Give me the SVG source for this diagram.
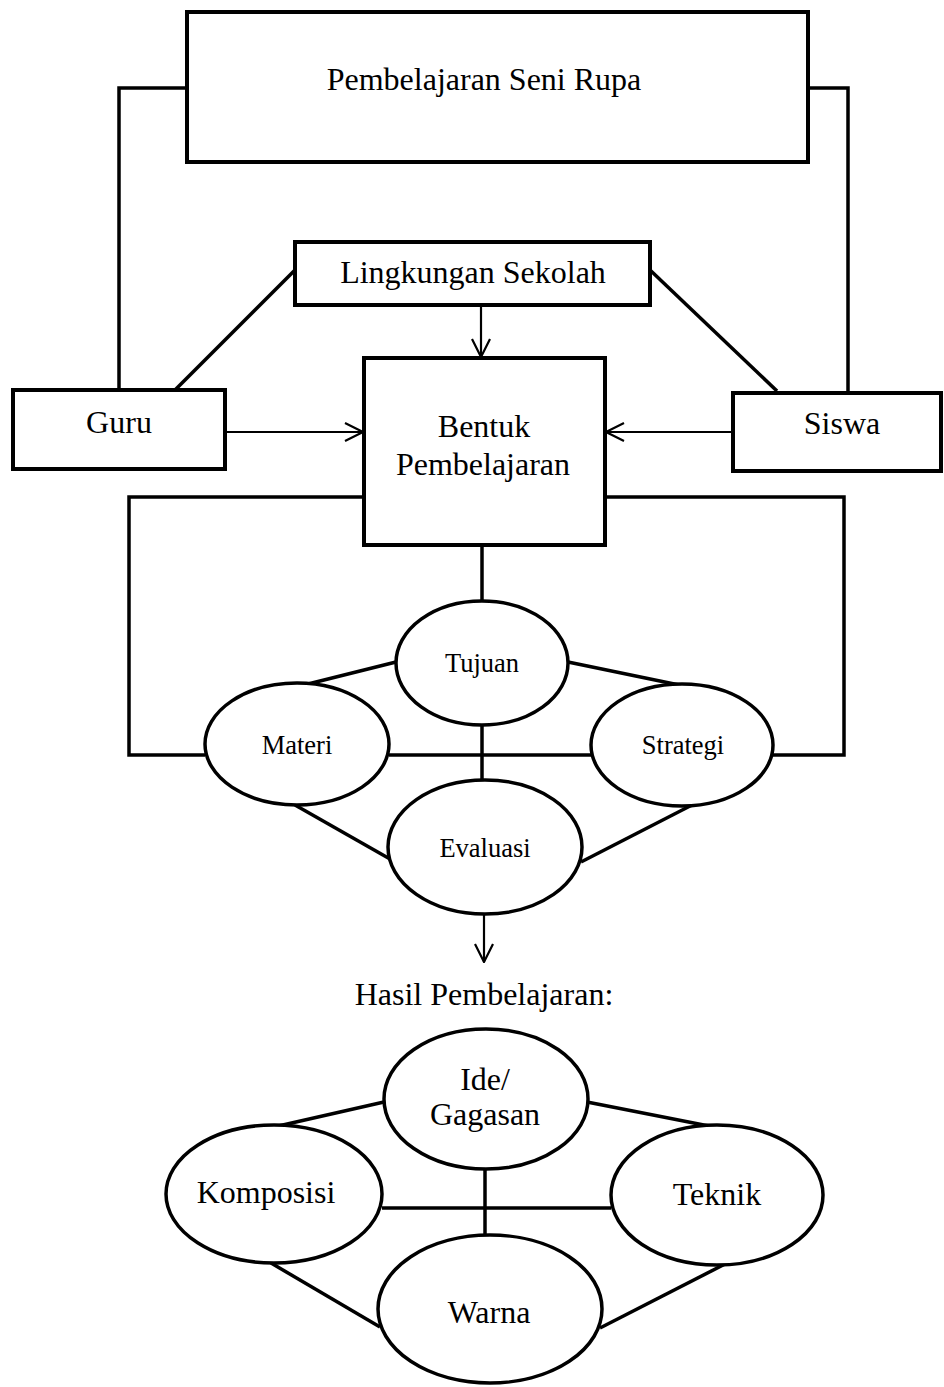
<svg xmlns="http://www.w3.org/2000/svg" width="944" height="1387" viewBox="0 0 944 1387">
<style>
.box{fill:#fff;stroke:#000;stroke-width:4}
.ell{fill:#fff;stroke:#000;stroke-width:3.5}
.ln{fill:none;stroke:#000;stroke-width:3.5}
.arr{fill:none;stroke:#000;stroke-width:2.2}
.big{font-family:"Liberation Serif","Times New Roman",serif;font-size:32px;text-anchor:middle;fill:#000}
.sm{font-family:"Liberation Serif","Times New Roman",serif;font-size:26.5px;text-anchor:middle;fill:#000}
</style>
<defs>
<marker id="ah" viewBox="0 0 20 20" refX="19" refY="10" markerWidth="20" markerHeight="20" markerUnits="userSpaceOnUse" orient="auto">
<path d="M1,1 L19,10 L1,19" fill="none" stroke="#000" stroke-width="2.2"/>
</marker>
</defs>
<g id="connectors">
<polyline class="ln" points="187,88 119,88 119,390"/>
<polyline class="ln" points="808,88 848,88 848,393"/>
<line class="ln" x1="175" y1="390" x2="295" y2="270"/>
<line class="ln" x1="650" y1="270" x2="777" y2="391"/>
<polyline class="ln" points="364,497 129,497 129,755 205,755"/>
<polyline class="ln" points="605,497 844,497 844,755 773,755"/>
<line class="ln" x1="482" y1="545" x2="482" y2="602"/>
<line class="ln" x1="396" y1="662" x2="300" y2="686"/>
<line class="ln" x1="568" y1="662" x2="684" y2="686"/>
<line class="ln" x1="389" y1="755" x2="591" y2="755"/>
<line class="ln" x1="482" y1="724" x2="482" y2="782"/>
<line class="ln" x1="295" y1="805" x2="390" y2="859"/>
<line class="ln" x1="692" y1="805" x2="581" y2="862"/>
<line class="ln" x1="384" y1="1102" x2="274" y2="1127"/>
<line class="ln" x1="587" y1="1102" x2="714" y2="1127"/>
<line class="ln" x1="382" y1="1208" x2="611" y2="1208"/>
<line class="ln" x1="485" y1="1168" x2="485" y2="1237"/>
<line class="ln" x1="271" y1="1263" x2="380" y2="1327"/>
<line class="ln" x1="727" y1="1263" x2="600" y2="1328"/>
<line class="arr" x1="481" y1="305" x2="481" y2="357" marker-end="url(#ah)"/>
<line class="arr" x1="225" y1="432" x2="363" y2="432" marker-end="url(#ah)"/>
<line class="arr" x1="733" y1="432" x2="606" y2="432" marker-end="url(#ah)"/>
<line class="arr" x1="484" y1="915" x2="484" y2="962" marker-end="url(#ah)"/>
</g>
<g id="pembelajaran-seni-rupa">
<rect class="box" x="187" y="12" width="621" height="150"/>
<text class="big" x="484" y="90">Pembelajaran Seni Rupa</text>
</g>
<g id="lingkungan-sekolah">
<rect class="box" x="295" y="242" width="355" height="63"/>
<text class="big" x="473" y="283">Lingkungan Sekolah</text>
</g>
<g id="guru">
<rect class="box" x="13" y="390" width="212" height="79"/>
<text class="big" x="119" y="433">Guru</text>
</g>
<g id="siswa">
<rect class="box" x="733" y="393" width="208" height="78"/>
<text class="big" x="842" y="434">Siswa</text>
</g>
<g id="bentuk-pembelajaran">
<rect class="box" x="364" y="358" width="241" height="187"/>
<text class="big" x="484" y="437">Bentuk</text>
<text class="big" x="483" y="475">Pembelajaran</text>
</g>
<g id="tujuan">
<ellipse class="ell" cx="482" cy="663" rx="86" ry="62"/>
<text class="sm" x="482" y="672">Tujuan</text>
</g>
<g id="materi">
<ellipse class="ell" cx="297" cy="744" rx="92" ry="61"/>
<text class="sm" x="297" y="754">Materi</text>
</g>
<g id="strategi">
<ellipse class="ell" cx="682" cy="745" rx="91" ry="61"/>
<text class="sm" x="683" y="754">Strategi</text>
</g>
<g id="evaluasi">
<ellipse class="ell" cx="485" cy="847" rx="97" ry="67"/>
<text class="sm" x="485" y="857">Evaluasi</text>
</g>
<g id="hasil-pembelajaran">
<text class="big" x="484" y="1005">Hasil Pembelajaran:</text>
</g>
<g id="ide-gagasan">
<ellipse class="ell" cx="486" cy="1099" rx="102" ry="70"/>
<text class="big" x="485" y="1090">Ide/</text>
<text class="big" x="485" y="1125">Gagasan</text>
</g>
<g id="komposisi">
<ellipse class="ell" cx="274" cy="1194" rx="108" ry="69"/>
<text class="big" x="266" y="1203">Komposisi</text>
</g>
<g id="teknik">
<ellipse class="ell" cx="717" cy="1195" rx="106" ry="70"/>
<text class="big" x="717" y="1205">Teknik</text>
</g>
<g id="warna">
<ellipse class="ell" cx="490" cy="1309" rx="112" ry="74"/>
<text class="big" x="489" y="1323">Warna</text>
</g>
</svg>
